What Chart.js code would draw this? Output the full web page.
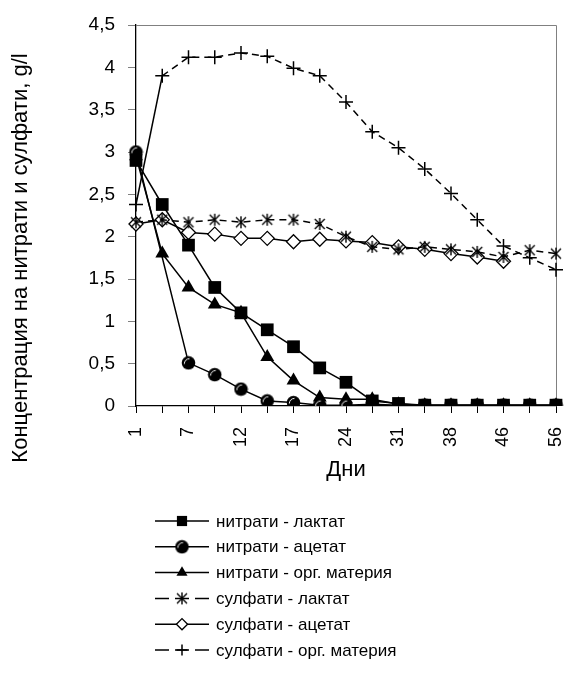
<!DOCTYPE html>
<html>
<head>
<meta charset="utf-8">
<script src="https://cdn.jsdelivr.net/npm/chart.js@4/dist/chart.umd.min.js"></script>
<style>
  html, body { margin: 0; padding: 0; background: #fff; }
  #wrap { position: relative; width: 565px; height: 689px; }
</style>
</head>
<body>
<div id="wrap"><canvas id="chart"></canvas></div>
<script>
// days of sampling (every other label is shown on the axis)
const days = ['1', '4', '7', '10', '12', '14', '17', '21', '24', '28', '31', '35', '38', '42', '46', '52', '56']

// concentrations, g/l
const nitrLactate = [2.9, 2.38, 1.9, 1.4, 1.1, 0.9, 0.7, 0.45, 0.28, 0.06, 0.03, 0.01, 0.01, 0.01, 0.01, 0.01, 0.01]
const nitrAcetate = [3.0, null, 0.51, 0.37, 0.2, 0.06, 0.04, 0.01, 0.01, 0.02, 0.01, 0.01, 0.01, 0.01, 0.01, 0.01, 0.01]
const nitrOrganic = [2.95, 1.8, 1.4, 1.2, 1.1, 0.58, 0.3, 0.1, 0.08, 0.08, 0.02, 0.01, 0.01, 0.01, 0.01, 0.01, 0.01]
const sulfLactate = [2.17, 2.2, 2.17, 2.2, 2.17, 2.2, 2.2, 2.15, 2.0, 1.88, 1.85, 1.88, 1.85, 1.82, 1.76, 1.84, 1.8]
const sulfAcetate = [2.15, 2.2, 2.05, 2.03, 1.98, 1.98, 1.94, 1.97, 1.95, 1.93, 1.88, 1.85, 1.8, 1.76, 1.71, null, null]
const sulfOrganic = [2.38, 3.9, 4.12, 4.12, 4.17, 4.13, 3.99, 3.9, 3.59, 3.24, 3.05, 2.8, 2.51, 2.2, 1.89, 1.75, 1.61]

const FONT = "'Liberation Sans', Arial, sans-serif"
const DASH = [7, 5]

// shaded ball marker
function makeBall() {
  const c = document.createElement('canvas')
  c.width = 15; c.height = 15
  const g = c.getContext('2d')
  g.fillStyle = '#000'
  g.beginPath(); g.arc(7.5, 7.5, 6.8, 0, Math.PI * 2); g.fill()
  g.strokeStyle = '#fff'; g.lineWidth = 1
  g.beginPath(); g.arc(8.5, 8.5, 5.2, Math.PI * 1.0, Math.PI * 1.5); g.stroke()
  return c
}

// excel style star: X with a vertical stroke
function makeStar() {
  const c = document.createElement('canvas')
  c.width = 14; c.height = 14
  const g = c.getContext('2d')
  g.strokeStyle = '#000'; g.lineWidth = 1.4
  g.beginPath()
  g.moveTo(2, 2); g.lineTo(12, 12)
  g.moveTo(12, 2); g.lineTo(2, 12)
  g.moveTo(7, 1); g.lineTo(7, 13)
  g.stroke()
  return c
}

const ball = makeBall()
const star = makeStar()

const datasets = [
  { label: 'нитрати - лактат', data: nitrLactate, pointStyle: 'rect', pointRadius: 9,
    pointBackgroundColor: '#000', pointBorderWidth: 0 },
  { label: 'нитрати - ацетат', data: nitrAcetate, pointStyle: ball, pointRadius: 7, spanGaps: true },
  { label: 'нитрати - орг. материя', data: nitrOrganic, pointStyle: 'triangle', pointRadius: 8,
    pointBackgroundColor: '#000', pointBorderWidth: 0 },
  { label: 'сулфати - лактат', data: sulfLactate, pointStyle: star, pointRadius: 7, borderDash: DASH },
  { label: 'сулфати - ацетат', data: sulfAcetate, pointStyle: 'rectRot', pointRadius: 7,
    pointBackgroundColor: '#fff', pointBorderColor: '#000', pointBorderWidth: 1.3 },
  { label: 'сулфати - орг. материя', data: sulfOrganic, pointStyle: 'cross', pointRadius: 7,
    pointBorderColor: '#000', pointBorderWidth: 1.5, borderDash: DASH,
    segment: { borderDash: (c) => c.p0DataIndex === 0 ? [] : DASH } }
]
datasets.forEach((d) => {
  d.borderColor = '#000'
  d.borderWidth = 1.5
  d.tension = 0
  d.fill = false
})

const extras = {
  id: 'extras',
  beforeDatasetsDraw(chart) {
    const {ctx, chartArea: a} = chart
    ctx.save()
    ctx.strokeStyle = '#808080'
    ctx.lineWidth = 1
    ctx.beginPath()
    ctx.moveTo(a.left, a.top + 0.5)
    ctx.lineTo(a.right + 0.5, a.top + 0.5)
    ctx.lineTo(a.right + 0.5, a.bottom)
    ctx.stroke()
    ctx.restore()
  },
  afterDraw(chart) {
    const ctx = chart.ctx
    ctx.save()
    // y axis title
    ctx.translate(21, 258)
    ctx.rotate(-Math.PI / 2)
    ctx.fillStyle = '#000'
    ctx.font = '22px ' + FONT
    ctx.textAlign = 'center'
    ctx.textBaseline = 'middle'
    ctx.fillText('Концентрация на нитрати и сулфати, g/l', 0, 0)
    ctx.restore()

    // legend, one entry per row
    chart.data.datasets.forEach((ds, i) => {
      const y = 521 + i * 25.8
      ctx.save()
      ctx.strokeStyle = '#000'
      ctx.lineWidth = 1.5
      ctx.setLineDash(ds.borderDash ? [14, 6] : [])
      ctx.beginPath(); ctx.moveTo(155, y); ctx.lineTo(209, y); ctx.stroke()
      ctx.setLineDash([])
      ctx.fillStyle = ds.pointBackgroundColor || '#000'
      ctx.strokeStyle = ds.pointBorderColor || '#000'
      ctx.lineWidth = ds.pointBorderWidth || 1
      const img = typeof ds.pointStyle !== 'string'
      Chart.helpers.drawPointLegend(ctx, {
        pointStyle: ds.pointStyle,
        radius: ds.pointRadius * 0.8,
        rotation: 0,
        borderWidth: ds.pointBorderWidth || 0
      }, 182, y, img ? 12 : 0)
      ctx.fillStyle = '#000'
      ctx.font = '17px ' + FONT
      ctx.textAlign = 'left'
      ctx.textBaseline = 'middle'
      ctx.fillText(ds.label, 216, y + 1)
      ctx.restore()
    })
  }
}

new Chart(document.getElementById('chart'), {
  type: 'line',
  data: { labels: days, datasets },
  plugins: [extras],
  options: {
    responsive: true,
    maintainAspectRatio: false,
    animation: false,
    events: [],
    layout: { padding: { top: 25, right: 7, bottom: 203, left: 0 } },
    plugins: { legend: { display: false }, tooltip: { enabled: false } },
    scales: {
      x: {
        offset: false,
        grid: { drawOnChartArea: false, tickLength: 7, color: '#000' },
        border: { color: '#000', width: 1.3 },
        ticks: {
          autoSkip: false,
          minRotation: 90,
          maxRotation: 90,
          padding: 14,
          color: '#000',
          font: { family: FONT, size: 18 },
          callback: (v, i) => i % 2 === 0 ? days[i] : ''
        },
        title: { display: true, text: 'Дни', color: '#000', font: { family: FONT, size: 22 },
          padding: { top: 0, bottom: 3 } },
        afterFit: (s) => { s.height = 80; s.paddingLeft = 0; s.paddingRight = 0 }
      },
      y: {
        min: 0,
        max: 4.5,
        grid: { drawOnChartArea: false, tickLength: 8, color: '#808080' },
        border: { color: '#000', width: 1.3 },
        ticks: {
          stepSize: 0.5,
          padding: 13,
          color: '#000',
          font: { family: FONT, size: 19 },
          callback: (v) => String(v).replace('.', ',')
        },
        afterFit: (s) => { s.width = 136; s.paddingTop = 0; s.paddingBottom = 0 }
      }
    }
  }
})
</script>
</body>
</html>
